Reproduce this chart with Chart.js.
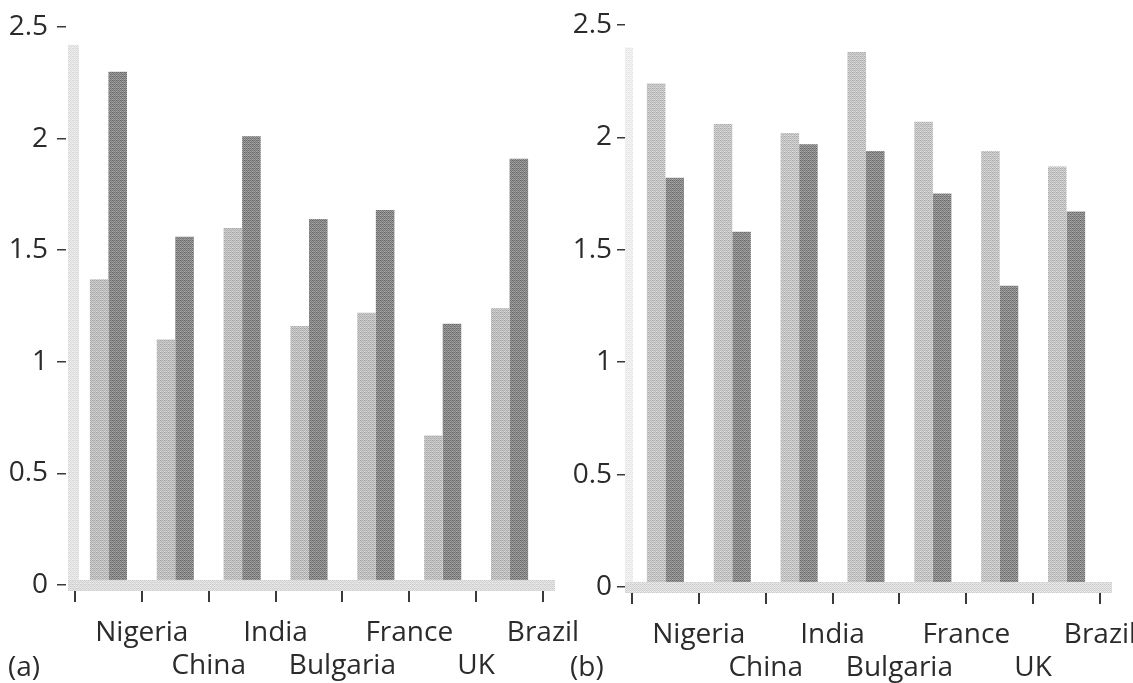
<!DOCTYPE html>
<html>
<head>
<meta charset="utf-8">
<script src="https://cdn.jsdelivr.net/npm/chart.js@4"></script>
<style>
  html, body { margin: 0; padding: 0; background: #fff; width: 1133px; height: 683px; overflow: hidden; }
  #wrap { position: relative; width: 1133px; height: 683px; }
  canvas { position: absolute; top: 0; }
  .tag { position: absolute; font-family: "Open Sans", sans-serif; font-size: 28px; color: #2b2b2b; line-height: 1; }
</style>
</head>
<body>
<div id="wrap">
  <canvas id="panelA" width="590" height="683" style="left:0"></canvas>
  <canvas id="panelB" width="573" height="683" style="left:560px"></canvas>
  <div class="tag" style="left:8px;top:651px">(a)</div>
  <div class="tag" style="left:570px;top:651px">(b)</div>
</div>
<script>
// Countries along the x axis
const categories = ['Nigeria', 'China', 'India', 'Bulgaria', 'France', 'UK', 'Brazil'];
// y axis ticks and their printed labels
const yTickValues = [0, 0.5, 1, 1.5, 2, 2.5];
const yTickLabels = ['0', '0.5', '1', '1.5', '2', '2.5'];

// Panel (a)
const panelALight = [1.37, 1.10, 1.60, 1.16, 1.22, 0.67, 1.24];
const panelADark  = [2.30, 1.56, 2.01, 1.64, 1.68, 1.17, 1.91];
// Panel (b)
const panelBLight = [2.24, 2.06, 2.02, 2.38, 2.07, 1.94, 1.87];
const panelBDark  = [1.82, 1.58, 1.97, 1.94, 1.75, 1.34, 1.67];

// Alternate labels between two rows so they do not collide
const stackedLabels = categories.map((c, i) => (i % 2 === 0 ? [c] : ['', c]));

// Printed halftone look: a small ordered-dither tile
function grain(ctx, base, spread) {
  const tile = document.createElement('canvas');
  tile.width = tile.height = 4;
  const g = tile.getContext('2d');
  const bayer = [0, 8, 2, 10, 12, 4, 14, 6, 3, 11, 1, 9, 15, 7, 13, 5];
  for (let i = 0; i < 16; i++) {
    const v = Math.max(0, Math.min(255, Math.round(base + (bayer[i] - 7.5) / 7.5 * spread)));
    g.fillStyle = `rgb(${v},${v},${v})`;
    g.fillRect(i % 4, Math.floor(i / 4), 1, 1);
  }
  return ctx.createPattern(tile, 'repeat');
}

// Light grey bands standing in for the axis lines
const axisBands = {
  id: 'axisBands',
  beforeDatasetsDraw(chart, args, opts) {
    const { ctx, chartArea, scales } = chart;
    const yTop = scales.y.getPixelForValue(opts.yBandTop);
    ctx.save();
    ctx.fillStyle = opts.yFill;
    ctx.fillRect(chartArea.left - opts.yBandBefore, yTop, opts.yBandWidth, chartArea.bottom - yTop);
    ctx.restore();
  },
  afterDatasetsDraw(chart, args, opts) {
    const { ctx, chartArea } = chart;
    ctx.save();
    ctx.fillStyle = opts.xFill;
    ctx.fillRect(chartArea.left - opts.yBandBefore, chartArea.bottom - 5,
                 chartArea.right - chartArea.left + opts.yBandBefore + opts.xBandExtra, 11);
    ctx.restore();
  }
};

function makePanel(id, light, dark, geo) {
  const canvas = document.getElementById(id);
  const ctx = canvas.getContext('2d');
  const font = { family: '"Open Sans", sans-serif', size: 28, lineHeight: 1.2 };
  return new Chart(ctx, {
    type: 'bar',
    data: {
      labels: stackedLabels,
      datasets: [
        { data: light, backgroundColor: grain(ctx, geo.lightBase, 28), borderWidth: 0 },
        { data: dark, backgroundColor: grain(ctx, geo.darkBase, 36), borderWidth: 0 }
      ]
    },
    options: {
      responsive: false,
      animation: false,
      devicePixelRatio: 1,
      layout: { padding: { left: 0, right: geo.padRight, top: geo.padTop, bottom: 0 } },
      plugins: {
        legend: { display: false },
        tooltip: { enabled: false },
        axisBands: {
          yBandTop: geo.yBandTop, yBandBefore: 7, yBandWidth: geo.yBandWidth,
          yFill: grain(ctx, geo.yBandBase, 14), xFill: grain(ctx, 220, 18), xBandExtra: 12
        }
      },
      datasets: { bar: { barPercentage: 1.0, categoryPercentage: 0.555 } },
      scales: {
        x: {
          offset: true,
          border: { display: false },
          grid: {
            offset: true, drawOnChartArea: false, drawTicks: true, tickLength: 17,
            color: '#3a3a3a', lineWidth: 2
          },
          ticks: {
            autoSkip: false, maxRotation: 0, minRotation: 0,
            labelOffset: geo.labelOffset, padding: geo.xLabelPad,
            color: '#2b2b2b', font
          },
          afterFit(scale) { scale.height = geo.xHeight; }
        },
        y: {
          min: 0, max: 2.5,
          border: { display: false },
          grid: {
            drawOnChartArea: false, drawTicks: true, tickLength: geo.yTickLen,
            tickBorderDash: [geo.yDash, 40], color: '#3a3a3a', lineWidth: 1.5
          },
          afterBuildTicks(scale) { scale.ticks = yTickValues.map(v => ({ value: v })); },
          ticks: {
            padding: geo.yLabelPad, color: '#2b2b2b', font,
            callback: (value) => yTickLabels[yTickValues.indexOf(value)]
          },
          afterFit(scale) { scale.width = geo.chartLeft; }
        }
      }
    },
    plugins: [axisBands]
  });
}

makePanel('panelA', panelALight, panelADark, {
  chartLeft: 75, padRight: 47, padTop: 27, xHeight: 98,
  yTickLen: 18, yDash: 9, yLabelPad: 9, labelOffset: 33.4, xLabelPad: 14,
  yBandTop: 2.42, yBandWidth: 11, yBandBase: 228,
  lightBase: 190, darkBase: 136
});

makePanel('panelB', panelBLight, panelBDark, {
  chartLeft: 72, padRight: 33, padTop: 25, xHeight: 96,
  yTickLen: 15, yDash: 8, yLabelPad: 5, labelOffset: 33.4, xLabelPad: 14,
  yBandTop: 2.4, yBandWidth: 8, yBandBase: 238,
  lightBase: 196, darkBase: 138
});
</script>
</body>
</html>
